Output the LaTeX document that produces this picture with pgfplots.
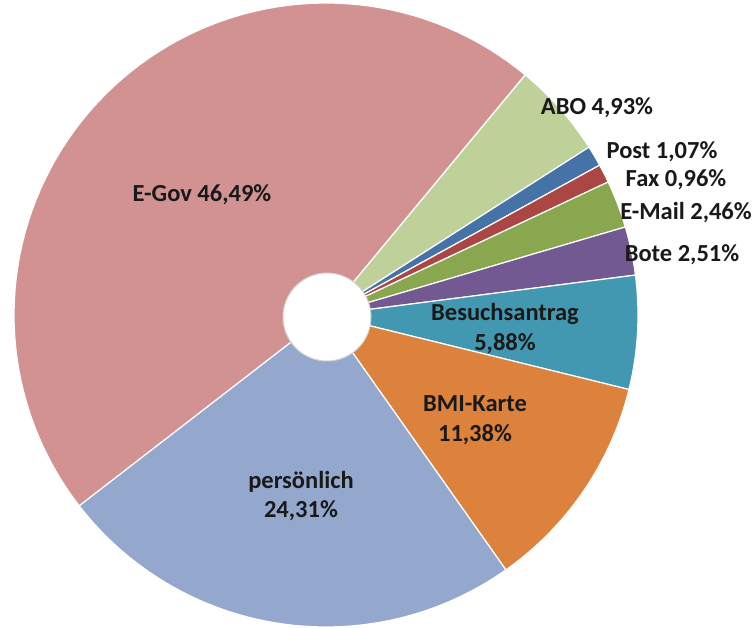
\documentclass[border=0pt]{standalone}
\usepackage{pgfplots}
\pgfplotsset{compat=1.18}
\usepackage{fontspec}
\setmainfont{Carlito}
\definecolor{cEGov}{HTML}{D29292}
\definecolor{cPers}{HTML}{94A8CE}
\definecolor{cBMI}{HTML}{DD823C}
\definecolor{cBes}{HTML}{4298B0}
\definecolor{cBote}{HTML}{725992}
\definecolor{cMail}{HTML}{89A74E}
\definecolor{cFax}{HTML}{AA4644}
\definecolor{cPost}{HTML}{4572A7}
\definecolor{cABO}{HTML}{BDD199}
\def\cx{326}
\def\cy{313}
\def\R{312}
\def\curang{50.3}
\newcommand\slice[2]{%
  \pgfmathsetmacro\angA{\curang}%
  \pgfmathsetmacro\angB{\curang-3.6*#1}%
  \edef\temp{\noexpand\addplot[fill=#2, draw=white, line width=1.2pt, domain=\angB:\angA, samples=80]
    ({\cx+\R*cos(x)},{\cy+\R*sin(x)}) -- (axis cs:\cx,\cy) -- cycle;}%
  \temp
  \global\let\curang\angB
}
\begin{document}
\begin{tikzpicture}
\begin{axis}[scale only axis, width=753pt, height=628pt,
  xmin=0, xmax=753, ymin=0, ymax=628, hide axis, clip=false]
% percentages, clockwise from the ABO/E-Gov boundary
\slice{4.93}{cABO}
\slice{1.07}{cPost}
\slice{0.96}{cFax}
\slice{2.46}{cMail}
\slice{2.51}{cBote}
\slice{5.88}{cBes}
\slice{11.38}{cBMI}
\slice{24.31}{cPers}
\slice{46.49}{cEGov}
\addplot[fill=white, draw=gray!35, line width=1pt, domain=0:360, samples=90]
  ({327+44*cos(x)},{311+44*sin(x)}) -- cycle;
\tikzset{lbl/.style={font=\bfseries\fontsize{24.5}{29.5}\selectfont, align=center, text=black!90}}
\node[lbl] at (axis cs:202,433) {E-Gov 46,49\%};
\node[lbl] at (axis cs:597,520) {ABO 4,93\%};
\node[lbl] at (axis cs:662,476) {Post 1,07\%};
\node[lbl] at (axis cs:676,448) {Fax 0,96\%};
\node[lbl] at (axis cs:686,415) {E-Mail 2,46\%};
\node[lbl] at (axis cs:682,373) {Bote 2,51\%};
\node[lbl] at (axis cs:505,299.5) {Besuchsantrag\\5,88\%};
\node[lbl] at (axis cs:475,208) {BMI-Karte\\11,38\%};
\node[lbl] at (axis cs:301,132) {persönlich\\24,31\%};
\end{axis}
\pgfresetboundingbox
\path (current axis.south west) rectangle (current axis.north east);
\end{tikzpicture}
\end{document}
